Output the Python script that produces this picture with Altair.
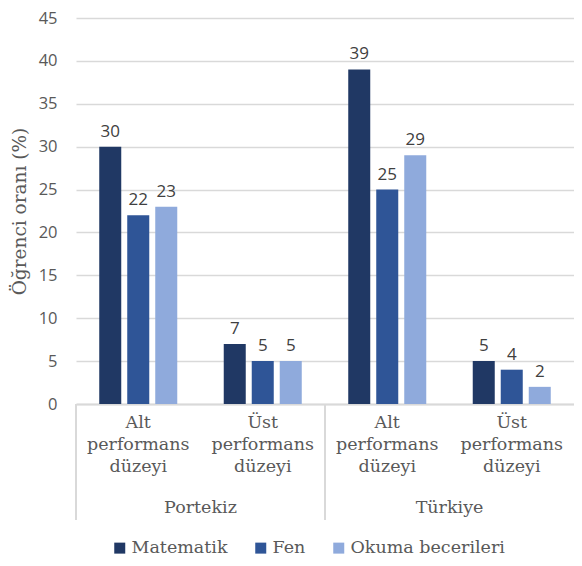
import altair as alt
import pandas as pd

countries = ["Portekiz", "Portekiz", "Türkiye", "Türkiye"]
levels = ["Alt performans düzeyi", "Üst performans düzeyi",
          "Alt performans düzeyi", "Üst performans düzeyi"]
series = ["Matematik", "Fen", "Okuma becerileri"]
matematik = [30, 7, 39, 5]
fen = [22, 5, 25, 4]
okuma = [23, 5, 29, 2]
colors = ["#203864", "#2F5597", "#8FAADC"]

SANS = "Open Sans"
SERIF = "DejaVu Serif"
GRAY = "#595959"
GRID = "#d9d9d9"

keys = [c + "|" + l for c, l in zip(countries, levels)]
rows = []
for s, vals in zip(series, [matematik, fen, okuma]):
    for k, v in zip(keys, vals):
        rows.append({"key": k, "series": s, "value": v})
df = pd.DataFrame(rows)

country_names = ["Portekiz", "Türkiye"]
first_keys = [keys[0], keys[2]]
df_c = pd.DataFrame({"key": first_keys, "country": country_names})

xscale = alt.Scale(domain=keys, paddingInner=0, paddingOuter=0)
xaxis = alt.Axis(
    labelExpr="split(split(datum.label, '|')[1], ' ')",
    labelAngle=0, ticks=False, domain=True, domainColor=GRID, domainWidth=2,
    labelFont=SERIF, labelFontSize=17.5, labelColor=GRAY, labelLineHeight=22,
    labelPadding=9, grid=False, title=None,
)

base = alt.Chart(df).encode(
    x=alt.X("key:N", scale=xscale, axis=xaxis, sort=keys),
    xOffset=alt.XOffset("series:N", sort=series,
                        scale=alt.Scale(domain=series, paddingInner=0.214, paddingOuter=0.83)),
)

bars = base.mark_bar().encode(
    y=alt.Y("value:Q", scale=alt.Scale(domain=[0, 45], nice=False),
            axis=alt.Axis(values=list(range(0, 50, 5)), domain=False, ticks=False,
                          grid=True, gridColor=GRID, gridWidth=1.5,
                          labelFont=SANS, labelFontSize=16.5, labelColor=GRAY,
                          labelPadding=19, title="Öğrenci oranı (%)",
                          titleFont=SERIF, titleFontSize=18.5, titleColor=GRAY,
                          titleFontWeight="normal", titlePadding=9)),
    color=alt.Color("series:N", sort=series,
                    scale=alt.Scale(domain=series, range=colors),
                    legend=alt.Legend(orient="none", legendX=35, legendY=521,
                                      direction="horizontal", title=None,
                                      symbolType="square", symbolSize=121,
                                      symbolStrokeWidth=0, labelFont=SERIF,
                                      labelFontSize=17.5, labelColor=GRAY,
                                      columnPadding=24, labelOffset=3, padding=0)),
)

labels = base.mark_text(dy=-15, font=SANS, fontSize=17, color="#404040").encode(
    y=alt.Y("value:Q"), text=alt.Text("value:Q"),
)

seps = alt.Chart(df_c).mark_rule(color=GRID, strokeWidth=2).encode(
    x=alt.X("key:N", bandPosition=0),
    y=alt.value(386), y2=alt.value(502),
)

clabels = alt.Chart(df_c).mark_text(font=SERIF, fontSize=17.5, color=GRAY, baseline="middle").encode(
    x=alt.X("key:N", bandPosition=1),
    y=alt.value(490),
    text="country:N",
)

chart = alt.layer(bars, labels, seps, clabels).properties(
    width=498, height=386,
    autosize=alt.AutoSizeParams(type="none"),
    padding={"left": 68, "top": 10, "right": 0, "bottom": 155},
).configure_view(stroke=None)

chart.save("out.html", embed_options={"renderer": "svg", "actions": False})
